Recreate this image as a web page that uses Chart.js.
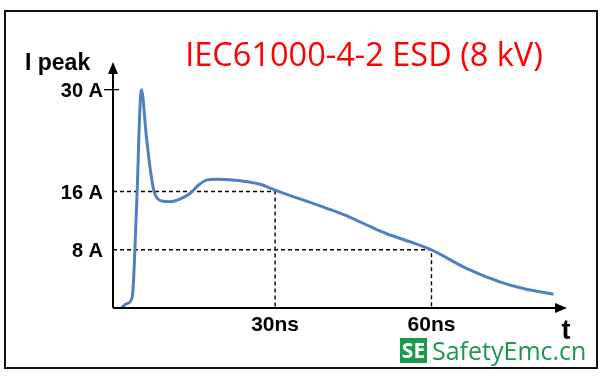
<!DOCTYPE html>
<html>
<head>
<meta charset="utf-8">
<script src="https://cdn.jsdelivr.net/npm/chart.js@4.4.1/dist/chart.umd.min.js"></script>
<style>
  html, body { margin: 0; padding: 0; background: #fff; }
  #wrap { width: 603px; height: 378px; }
</style>
</head>
<body>
<div id="wrap"><canvas id="esdChart" width="603" height="378"></canvas></div>
<script>
// waveform (time in ns, current in A)
const timeNs = [0.5, 1.5, 2.6, 3.4, 4.35, 5.3, 6.08, 6.78, 7.5, 8.3, 9.8, 11.5, 13.6, 15.5, 17, 18.75, 21.9, 25, 27.1, 30, 33.5, 39.9, 44.3, 48.2, 51.4, 55.9, 60, 66.7, 73.1, 78, 83.4];
const currentA = [0, 0.6, 1.5, 13.5, 30, 23.6, 18.9, 16, 15.0, 14.7, 14.6, 14.9, 15.7, 17.0, 17.6, 17.7, 17.6, 17.3, 17.0, 16.2, 15.3, 13.7, 12.5, 11.2, 10.2, 9.1, 8.0, 5.45, 3.6, 2.6, 1.9];

// marked values
const yTicks = [8, 16, 30];
const yTickLabels = ["8 A", "16 A", "30 A"];
const xTicks = [30, 60];
const xTickLabels = ["30ns", "60ns"];
const markTimes = [30, 60];
const markCurrents = [16, 8];

const xMin = -1.1, xMax = 86;
const yMin = 0, yMax = 33.8;

const curve = timeNs.map((t, i) => ({ x: t, y: currentA[i] }));

// dashed guide lines: from y axis to the point, then down to x axis
const guides = markTimes.map((t, i) => ({
  data: [{ x: xMin, y: markCurrents[i] }, { x: t, y: markCurrents[i] }, { x: t, y: 0 }],
  borderColor: "#000",
  borderWidth: 1.4,
  borderDash: [4, 3],
  pointRadius: 0,
  tension: 0,
  showLine: true
}));

function arrow(ctx, x, y, dir) {
  ctx.beginPath();
  if (dir === "up") {
    ctx.moveTo(x, y);
    ctx.lineTo(x - 5, y + 12);
    ctx.lineTo(x + 5, y + 12);
  } else {
    ctx.moveTo(x, y);
    ctx.lineTo(x - 12, y - 5);
    ctx.lineTo(x - 12, y + 5);
  }
  ctx.closePath();
  ctx.fill();
}

const decor = {
  id: "decor",
  beforeDraw(chart) {
    const c = chart.ctx;
    c.save();
    c.fillStyle = "#fff";
    c.fillRect(0, 0, chart.width, chart.height);
    c.restore();
  },
  afterDraw(chart) {
    const c = chart.ctx;
    const xs = chart.scales.x, ys = chart.scales.y;
    const ax = xs.getPixelForValue(xMin);
    const ay = ys.getPixelForValue(0);
    const top = ys.getPixelForValue(yMax);
    const right = xs.getPixelForValue(xMax);
    c.save();

    // frame
    c.strokeStyle = "#111";
    c.lineWidth = 2;
    c.strokeRect(5, 11, 592, 357);

    // axes
    c.strokeStyle = "#000";
    c.fillStyle = "#000";
    c.lineWidth = 2;
    c.beginPath();
    c.moveTo(ax, ay);
    c.lineTo(ax, top + 8);
    c.moveTo(ax, ay);
    c.lineTo(right - 8, ay);
    c.stroke();
    arrow(c, ax, top, "up");
    arrow(c, right, ay, "right");

    // cross tick at 30 A
    const y30 = ys.getPixelForValue(30);
    c.lineWidth = 1.3;
    c.beginPath();
    c.moveTo(ax - 9, y30);
    c.lineTo(ax + 6, y30);
    c.stroke();

    // tick labels
    c.font = "bold 20px 'Liberation Sans', Arial, sans-serif";
    c.textAlign = "right";
    c.textBaseline = "middle";
    yTicks.forEach((v, i) => {
      c.fillText(yTickLabels[i], ax - 10, ys.getPixelForValue(v) + 1.5);
    });
    c.font = "bold 21px 'Liberation Sans', Arial, sans-serif";
    c.textAlign = "center";
    xTicks.forEach((v, i) => {
      c.fillText(xTickLabels[i], xs.getPixelForValue(v), ay + 17);
    });

    // axis names
    c.font = "bold 23px 'Liberation Sans', Arial, sans-serif";
    c.textAlign = "left";
    c.textBaseline = "alphabetic";
    c.fillText("I peak", 25, 70);
    c.font = "bold 27px 'Liberation Sans', Arial, sans-serif";
    c.textAlign = "center";
    c.fillText("t", right - 1, 339);

    // title
    c.fillStyle = "#ff0000";
    c.font = "32.5px 'Open Sans', sans-serif";
    c.textAlign = "center";
    c.fillText("IEC61000-4-2 ESD (8 kV)", 364, 66);

    // watermark
    c.fillStyle = "#1a9a4a";
    c.fillRect(400, 338, 27, 25);
    c.fillStyle = "#fff";
    c.font = "bold 21px 'Open Sans', sans-serif";
    c.fillText("SE", 413.5, 358);
    c.fillStyle = "#1a9a4a";
    c.font = "25px 'Open Sans', sans-serif";
    c.textAlign = "left";
    c.fillText("SafetyEmc.cn", 432, 360);
    c.restore();
  }
};

const ctx = document.getElementById("esdChart").getContext("2d");
new Chart(ctx, {
  type: "scatter",
  data: {
    datasets: [
      {
        data: curve,
        borderColor: "#4f81c2",
        borderWidth: 3,
        pointRadius: 0,
        showLine: true,
        cubicInterpolationMode: "monotone"
      },
      ...guides
    ]
  },
  options: {
    responsive: false,
    animation: false,
    layout: { padding: { left: 113, right: 36, top: 62, bottom: 70 } },
    plugins: { legend: { display: false }, tooltip: { enabled: false } },
    scales: {
      x: { type: "linear", min: xMin, max: xMax, display: false },
      y: { type: "linear", min: yMin, max: yMax, display: false }
    }
  },
  plugins: [decor]
});
</script>
</body>
</html>
